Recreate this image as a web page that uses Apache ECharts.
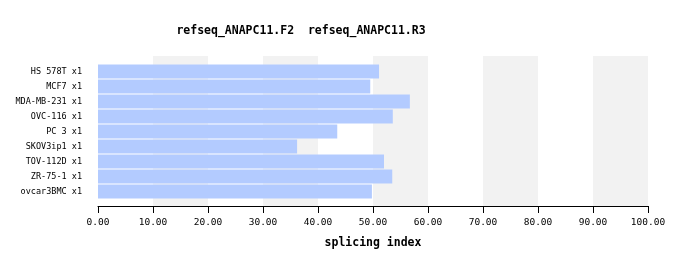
<!DOCTYPE html>
<html><head><meta charset="utf-8">
<script src="https://cdn.jsdelivr.net/npm/echarts@6/dist/echarts.min.js"></script>
<style>html,body{margin:0;padding:0;background:#fff}#c{width:688px;height:266px}</style>
</head><body><div id="c"></div>
<script>
var categories = ["HS 578T x1","MCF7 x1","MDA-MB-231 x1","OVC-116 x1","PC 3 x1","SKOV3ip1 x1","TOV-112D x1","ZR-75-1 x1","ovcar3BMC x1"];
var values = [51.1, 49.5, 56.7, 53.6, 43.5, 36.2, 52.0, 53.5, 49.8];
var titleText = "refseq_ANAPC11.F2  refseq_ANAPC11.R3";
var axisName = "splicing index";
var font = "DejaVu Sans Mono";
var chart = echarts.init(document.getElementById('c'), null, {renderer:'canvas'});
chart.setOption({
  animation:false,
  title:{text:titleText,left:296,top:20,textAlign:'center',textStyle:{fontFamily:font,fontSize:11.5,fontWeight:'bold',color:'#000'}},
  grid:[
    {left:98,width:550,top:56,height:150},
    {left:98,width:550,top:64,height:135}
  ],
  xAxis:[
    {gridIndex:0,type:'value',min:0,max:100,interval:10,
     axisLine:{show:true,lineStyle:{color:'#000',width:1}},
     axisTick:{show:true,length:7,lineStyle:{color:'#000'}},
     axisLabel:{fontFamily:font,fontSize:9.5,color:'#000',margin:12,formatter:function(v){return v.toFixed(2);}},
     splitLine:{show:false},
     splitArea:{show:true,areaStyle:{color:['#ffffff','#f2f2f2']}},
     name:axisName,nameLocation:'middle',nameGap:31,
     nameTextStyle:{fontFamily:font,fontSize:11.5,fontWeight:'bold',color:'#000'}},
    {gridIndex:1,type:'value',min:0,max:100,show:false}
  ],
  yAxis:[
    {gridIndex:0,type:'category',data:categories,show:false},
    {gridIndex:1,type:'category',data:categories,inverse:true,
     axisLine:{show:false},axisTick:{show:false},
     axisLabel:{fontFamily:font,fontSize:8.5,color:'#000',margin:16}}
  ],
  series:[{type:'bar',xAxisIndex:1,yAxisIndex:1,data:values,barWidth:14,
    itemStyle:{color:'#b3cbff'}}]
});
</script></body></html>
